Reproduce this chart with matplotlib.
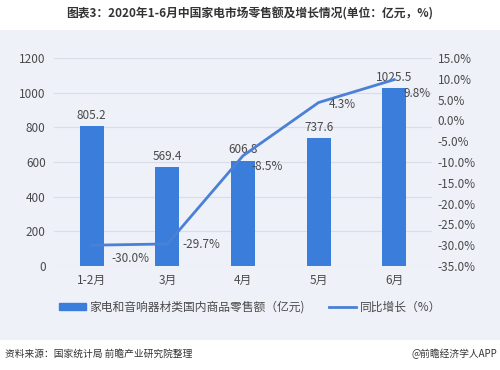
import matplotlib.pyplot as plt
from matplotlib.patches import Rectangle
from matplotlib.lines import Line2D

plt.rcParams['font.family'] = ['Noto Sans CJK SC', 'DejaVu Sans']
plt.rcParams['axes.unicode_minus'] = False

# 数据
months = ['1-2月', '3月', '4月', '5月', '6月']
sales = [805.2, 569.4, 606.8, 737.6, 1025.5]
growth = [-30.0, -29.7, -8.5, 4.3, 9.8]

bar_color = '#3a7ddb'
line_color = '#4a80d6'
text_color = '#4a4a4a'
bg = '#eef1f8'

fig = plt.figure(figsize=(5, 3.7), dpi=100)
fig.patch.set_facecolor('white')
# 浅色背景面板
fig.add_artist(Rectangle((0, 30 / 370), 1, 1 - 60 / 370, transform=fig.transFigure,
                         facecolor=bg, edgecolor='none', zorder=-10))

fig.text(0.5, 1 - 14 / 370, '图表3：2020年1-6月中国家电市场零售额及增长情况(单位：亿元，%)',
         ha='center', va='center', fontsize=8.5, fontweight='bold', color='#333333')

ax = fig.add_axes([0.108, 1 - 266 / 370, 0.756, (266 - 58) / 370])
ax.set_facecolor('none')
x = list(range(len(months)))
ax.bar(x, sales, width=0.32, color=bar_color, zorder=2)
ax.set_ylim(0, 1200)
ax.set_yticks(range(0, 1201, 200))
ax.set_xlim(-0.5, 4.5)
ax.set_xticks(x)
ax.set_xticklabels(months)
ax.grid(axis='y', color='#d9dde6', linewidth=0.8, zorder=0)
ax.set_axisbelow(True)
for s in ax.spines.values():
    s.set_visible(False)
ax.tick_params(length=0, labelsize=8.5, colors=text_color, pad=6)
for xi, v in zip(x, sales):
    ax.text(xi, v + 25, f'{v}', ha='center', va='bottom', fontsize=8.5, color=text_color)

ax2 = ax.twinx()
ax2.set_facecolor('none')
ax2.plot(x, growth, color=line_color, linewidth=2, zorder=3)
ax2.set_ylim(-35, 15)
ax2.set_yticks(range(-35, 16, 5))
ax2.set_yticklabels([f'{t:.1f}%' for t in range(-35, 16, 5)])
for s in ax2.spines.values():
    s.set_visible(False)
ax2.tick_params(length=0, labelsize=8.5, colors=text_color, pad=4)

# 折线标签偏移（像素）
label_off = [(20, -13), (15, -1), (8, -11), (10, -2), (9, -14)]
for xi, g, (dx, dy) in zip(x, growth, label_off):
    ax2.annotate(f'{g:.1f}%', (xi, g), xytext=(dx * 0.72, dy * 0.72),
                 textcoords='offset points', ha='left', va='center',
                 fontsize=8.5, color=text_color)

handles = [Rectangle((0, 0), 1, 1, color=bar_color),
           Line2D([0], [0], color=line_color, linewidth=2)]
fig.legend(handles, ['家电和音响器材类国内商品零售额（亿元)', '同比增长（%）'],
           loc='center', bbox_to_anchor=(0.5, 1 - 307 / 370), ncol=2, frameon=False,
           fontsize=8.5, labelcolor=text_color, handlelength=2.3, columnspacing=2.0,
           handleheight=0.6, handletextpad=0.3)

fig.text(0.01, 1 - 354 / 370, '资料来源：国家统计局 前瞻产业研究院整理', ha='left', va='center',
         fontsize=7, color='#333333')
fig.text(0.995, 1 - 354 / 370, '@前瞻经济学人APP', ha='right', va='center',
         fontsize=7, color='#333333')

fig.savefig('out.png', dpi=100, facecolor=fig.get_facecolor())
